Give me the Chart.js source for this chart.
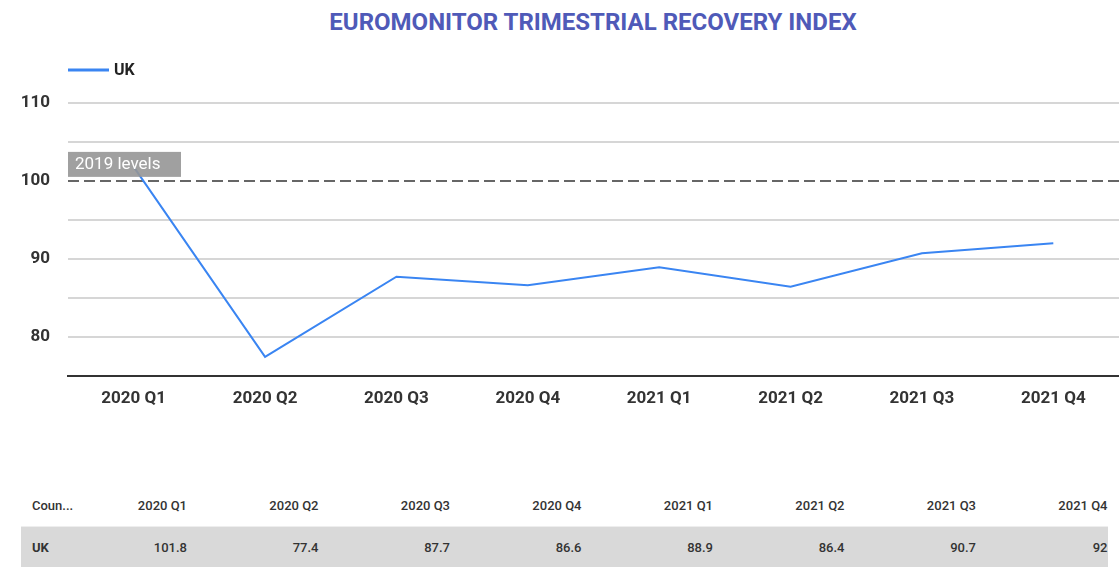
<!DOCTYPE html>
<html lang="en">
<head>
    <meta charset="UTF-8">
    <title>Euromonitor Trimestrial Recovery Index</title>
    <script src="https://cdn.jsdelivr.net/npm/chart.js"></script>
    <style>
        body {
            margin: 0;
            background: #ffffff;
            font-family: Roboto, Arial, sans-serif;
            width: 1119px;
            height: 567px;
            overflow: hidden;
            position: relative;
        }
        h1 {
            position: absolute;
            top: 8px;
            left: 0;
            width: 1186px;
            margin: 0;
            text-align: center;
            font-size: 24px;
            font-weight: bold;
            color: #4f5ab8;
        }
        .chart-box {
            position: absolute;
            top: 0;
            left: 0;
            width: 1119px;
            height: 422px;
        }
        table {
            position: absolute;
            top: 485px;
            left: 21px;
            border-collapse: collapse;
            font-size: 13px;
            font-weight: 500;
            color: #333;
            table-layout: fixed;
        }
        td {
            height: 41px;
            padding: 0;
            text-align: right;
            white-space: nowrap;
        }
        td.first {
            text-align: left;
            padding-left: 11px;
        }
        tr.head td { border-bottom: 1px solid #eeeeee; }
        tr.row td { background: #d9d9d9; }
    </style>
</head>
<body>
    <h1>EUROMONITOR TRIMESTRIAL RECOVERY INDEX</h1>
    <div class="chart-box"><canvas id="recoveryChart"></canvas></div>
    <table id="dataTable"></table>
    <script>
        const quarters = ['2020 Q1', '2020 Q2', '2020 Q3', '2020 Q4', '2021 Q1', '2021 Q2', '2021 Q3', '2021 Q4'];
        const ukValues = [101.8, 77.4, 87.7, 86.6, 88.9, 86.4, 90.7, 92];
        const yTicks = [80, 90, 100, 110];
        const referenceLevel = 100;

        // dashed 2019 line, its label and the legend
        const extras = {
            id: 'extras',
            beforeDatasetsDraw(chart) {
                const c = chart.ctx;
                const area = chart.chartArea;
                const y = chart.scales.y.getPixelForValue(referenceLevel);
                c.save();
                c.strokeStyle = '#666666';
                c.lineWidth = 2;
                c.setLineDash([11, 5]);
                c.beginPath();
                c.moveTo(area.left, y);
                c.lineTo(area.right, y);
                c.stroke();
                c.restore();
            },
            afterDatasetsDraw(chart) {
                const c = chart.ctx;
                const area = chart.chartArea;
                const y = chart.scales.y.getPixelForValue(referenceLevel);
                c.save();
                c.fillStyle = 'rgba(150,150,150,0.9)';
                c.fillRect(area.left, y - 29, 113, 25);
                c.fillStyle = '#ffffff';
                c.font = '17px Roboto';
                c.textBaseline = 'middle';
                c.fillText('2019 levels', area.left + 7, y - 16);

                // legend
                c.strokeStyle = chart.data.datasets[0].borderColor;
                c.lineWidth = 3;
                c.beginPath();
                c.moveTo(area.left, 70);
                c.lineTo(area.left + 41, 70);
                c.stroke();
                c.fillStyle = '#222';
                c.font = 'bold 16px Roboto';
                c.fillText(chart.data.datasets[0].label, area.left + 46, 71);
                c.restore();
            }
        };

        const tickFont = { family: 'Roboto', size: 17, weight: 'bold' };

        const ctx = document.getElementById('recoveryChart').getContext('2d');
        const chart = new Chart(ctx, {
            type: 'line',
            data: {
                labels: quarters,
                datasets: [{
                    label: 'UK',
                    data: ukValues,
                    borderColor: '#3a85f2',
                    borderWidth: 2,
                    pointRadius: 0,
                    tension: 0
                }]
            },
            options: {
                responsive: true,
                maintainAspectRatio: false,
                animation: false,
                layout: { padding: { top: 103, right: 0, left: 0, bottom: 0 } },
                plugins: {
                    legend: { display: false },
                    tooltip: { enabled: false }
                },
                scales: {
                    x: {
                        offset: true,
                        grid: { display: false, drawTicks: false },
                        border: { display: true, color: '#333333', width: 2 },
                        ticks: {
                            color: '#333',
                            font: tickFont,
                            padding: 13,
                            maxRotation: 0
                        }
                    },
                    y: {
                        min: 75,
                        max: 110,
                        afterFit(scale) { scale.width = 68; },
                        border: { display: false },
                        grid: {
                            drawTicks: false,
                            lineWidth: 2,
                            color: c => (c.tick.value === referenceLevel || c.tick.value === 75) ? 'rgba(0,0,0,0)' : '#d6d6d6'
                        },
                        ticks: {
                            stepSize: 5,
                            padding: 18,
                            color: '#333',
                            font: tickFont,
                            callback: v => yTicks.includes(v) ? v : ''
                        }
                    }
                }
            },
            plugins: [extras]
        });

        // data table under the chart
        const table = document.getElementById('dataTable');
        const colWidths = [69, 97];
        let head = '<tr class="head"><td class="first" style="width:' + (colWidths[0] - 11) + 'px">Coun...</td>';
        let row = '<tr class="row"><td class="first"><b>UK</b></td>';
        quarters.forEach((q, i) => {
            const w = i === 0 ? colWidths[1] : 131.5;
            head += '<td style="width:' + w + 'px">' + q + '</td>';
            row += '<td>' + ukValues[i] + '</td>';
        });
        table.innerHTML = head + '</tr>' + row + '</tr>';
    </script>
</body>
</html>
